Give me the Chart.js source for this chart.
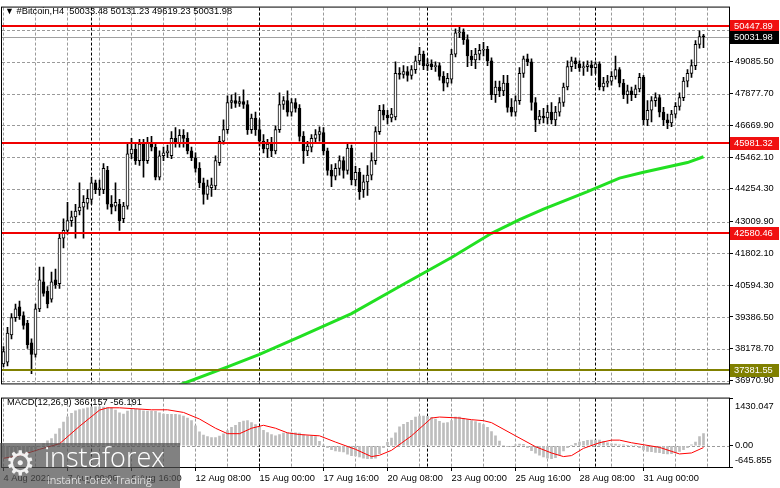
<!DOCTYPE html>
<html>
<head>
<meta charset="utf-8">
<title>#Bitcoin,H4</title>
<script src="https://cdn.jsdelivr.net/npm/chart.js@4.4.1/dist/chart.umd.min.js"></script>
<style>
  html, body { margin: 0; padding: 0; background: #fff; }
  #wrap { position: relative; width: 780px; height: 488px; overflow: hidden; font-family: "Liberation Sans", Arial, sans-serif; }
  #mainChart { position: absolute; left: 0; top: 0; }
  #macdChart { position: absolute; left: 0; top: 391px; }
  .lbl { position: absolute; font-size: 9.3px; line-height: 12px; color: #000; white-space: pre; }
  #title { left: 5px; top: 5px; }
  #title .arr { font-size: 9px; }
  #macdLbl { left: 7px; top: 396px; }
  #wm { position: absolute; left: 0; top: 443px; width: 180px; height: 45px; background: rgba(80, 80, 80, 0.72); color: #fff; }
  #wmGear { position: absolute; left: 5px; top: 2px; font: 34px/36px "DejaVu Sans"; color: rgba(255, 255, 255, 0.9); }
  #wmName { position: absolute; left: 44px; top: 0; font: 300 27px/27px "Open Sans"; }
  #wmTag { position: absolute; left: 47px; top: 31px; font: 300 11px/11px "Open Sans"; }
</style>
</head>
<body>
<div id="wrap">
  <canvas id="mainChart" width="780" height="391"></canvas>
  <canvas id="macdChart" width="780" height="97"></canvas>
  <div id="title" class="lbl"><span class="arr">▼</span> #Bitcoin,H4  50033.48 50131.23 49619.23 50031.98</div>
  <div id="macdLbl" class="lbl">MACD(12,26,9) 366.157 -56.191</div>
  <div id="wm">
    <span id="wmGear">⚙</span>
    <span id="wmName">instaforex</span>
    <span id="wmTag">Instant Forex Trading</span>
  </div>
</div>

<script>
// H4 candles, oldest first
const openP = [
  37597, 37670, 38701, 39364, 39769, 39438, 39143, 38407, 37965, 39695,
  40726, 40358, 40063, 40800, 40653, 42383, 42678, 43046, 43193, 43414,
  43562, 43709, 43856, 44482, 44224, 44224, 44961, 43672, 43598, 43672,
  43120, 43598, 45587, 45771, 45329, 45955, 45329, 45992, 45844, 44703,
  45513, 45624, 45513, 46176, 45992, 46286, 46176, 45697, 45439, 45034,
  44482, 44040, 44298, 44372, 45255, 46065, 46507, 47538, 47612, 47501,
  47575, 47464, 46507, 46949, 46507, 46065, 45771, 45955, 45697, 46507,
  47464, 47612, 47170, 47538, 47317, 46249, 45697, 45844, 46176, 46323,
  46397, 45697, 44961, 44740, 45034, 45329, 44961, 45808, 44593, 44887,
  44224, 44519, 44777, 45329, 46434, 47244, 47059, 46949, 46986, 48643,
  48606, 48716, 48569, 48790, 49121, 49379, 48937, 49011, 48900, 48937,
  48532, 48274, 48422, 49379, 50189, 50226, 49931, 49305, 49158, 49379,
  49526, 49563, 49121, 47833, 48127, 47980, 48274, 47354, 47170, 47612,
  48643, 49195, 49084, 47538, 46875, 47023, 46949, 47170, 46875, 47170,
  47538, 48127, 48900, 49121, 49011, 48864, 48900, 48974, 48864, 49011,
  48127, 48274, 48348, 48532, 48790, 48274, 47833, 47980, 47833, 48054,
  48495, 46875, 47244, 47612, 47722, 47170, 46875, 46765, 47096, 47391,
  47722, 48348, 48643, 48937, 49747, 50033.48
];
const highP = [
  38259, 38996, 39511, 39879, 39990, 39585, 39254, 38554, 39879, 41279,
  41279, 40542, 41095, 41206, 42567, 43120, 43746, 43414, 43672, 44482,
  44003, 44224, 44703, 44593, 44593, 45218, 45108, 44003, 44482, 43856,
  43746, 45955, 46176, 45992, 46139, 46139, 46213, 46249, 45955, 45697,
  45844, 45918, 46434, 46581, 46507, 46507, 46397, 45844, 45624, 45255,
  44666, 44593, 44666, 45513, 46249, 46875, 47796, 47833, 47906, 47759,
  48017, 47612, 47096, 47170, 46875, 46323, 46139, 46213, 46654, 47906,
  47759, 47980, 47685, 47685, 47464, 46434, 46065, 46323, 46507, 46618,
  46581, 45808, 45182, 45218, 45513, 45476, 45955, 45918, 45108, 45034,
  44777, 45145, 45624, 46618, 47428, 47464, 47244, 47317, 49084, 48864,
  48937, 48900, 48937, 49305, 49637, 49489, 49195, 49158, 49084, 49048,
  48716, 48643, 49563, 50336, 50410, 50336, 50115, 49526, 49600, 49747,
  49821, 49674, 49232, 48348, 48348, 48569, 48569, 47685, 47796, 48864,
  49305, 49379, 49195, 47722, 47244, 47317, 47428, 47538, 47391, 47722,
  48274, 49121, 49269, 49232, 49121, 49084, 49121, 49121, 49084, 49084,
  48495, 48569, 48716, 49305, 48864, 48422, 48201, 48127, 48201, 48643,
  48569, 47612, 47759, 47906, 47833, 47354, 47096, 47244, 47538, 47906,
  48495, 48790, 49158, 49895, 50263, 50131.23
];
const lowP = [
  37486, 37523, 38554, 39217, 39290, 38922, 38186, 37228, 37854, 39585,
  40174, 39732, 39953, 40469, 40469, 42015, 42531, 42825, 42383, 43267,
  42383, 43488, 43672, 44077, 44003, 44077, 43488, 43304, 43414, 42678,
  42972, 43488, 45403, 45182, 45145, 44703, 45218, 45697, 44593, 44593,
  45329, 45439, 45403, 45844, 45844, 45844, 45587, 45329, 44887, 44298,
  43672, 43856, 43967, 44224, 45145, 45955, 46360, 47317, 47354, 47391,
  47317, 46323, 46360, 46286, 45881, 45624, 45439, 45476, 45587, 46397,
  47280, 47023, 47023, 47170, 46065, 45218, 45513, 45660, 45992, 46065,
  45550, 44777, 44335, 44593, 44777, 44666, 44813, 44408, 44372, 43856,
  43930, 44003, 44593, 45182, 46323, 46875, 46728, 46802, 46875, 48422,
  48459, 48348, 48422, 48643, 48974, 48790, 48753, 48790, 48716, 48385,
  47980, 48127, 48274, 49269, 50005, 49747, 48900, 48937, 48827, 49158,
  49305, 48937, 47649, 47538, 47759, 47796, 47170, 47023, 47023, 47464,
  48495, 48937, 47244, 46434, 46728, 46765, 46728, 46728, 46654, 47023,
  47391, 48017, 48716, 48827, 48716, 48569, 48716, 48569, 48643, 48017,
  47980, 48127, 48201, 48422, 48127, 47685, 47501, 47612, 47722, 47943,
  46691, 46654, 46802, 47391, 46986, 46654, 46544, 46618, 46949, 47244,
  47612, 48127, 48495, 48790, 49600, 49619.23
];
const closeP = [
  38075, 38775, 39364, 39695, 39438, 39069, 38333, 37965, 39695, 40800,
  40284, 39879, 40726, 40616, 42383, 42678, 43046, 43193, 43414, 43562,
  43746, 43893, 44482, 44224, 44298, 45034, 43672, 43562, 43746, 43046,
  43598, 45587, 45771, 45329, 45955, 45329, 45992, 45844, 44703, 45513,
  45624, 45697, 46176, 45992, 46286, 46176, 45697, 45439, 45034, 44482,
  44040, 44372, 44408, 45329, 46065, 46507, 47538, 47612, 47501, 47575,
  47464, 46507, 46949, 46507, 46065, 45771, 45955, 45697, 46507, 47464,
  47612, 47170, 47538, 47317, 46249, 45697, 45881, 46176, 46323, 46434,
  45697, 44961, 44740, 45034, 45329, 44961, 45808, 44593, 44887, 44151,
  44519, 44777, 45329, 46434, 47244, 47059, 46949, 47096, 48643, 48606,
  48716, 48569, 48790, 49121, 49379, 48937, 49011, 48900, 48937, 48532,
  48274, 48459, 49379, 50189, 50226, 49931, 49305, 49158, 49379, 49526,
  49563, 49121, 47833, 48127, 47980, 48274, 47354, 47170, 47612, 48643,
  49195, 49084, 47538, 46875, 47023, 46949, 47170, 46875, 47170, 47538,
  48127, 48900, 49121, 49011, 48864, 48900, 48974, 48864, 49011, 48127,
  48274, 48348, 48532, 48790, 48274, 47833, 47980, 47833, 48054, 48495,
  46875, 47244, 47612, 47722, 47170, 46875, 46765, 47096, 47391, 47722,
  48348, 48643, 48937, 49747, 50042, 50031.98
];

// MACD(12,26,9): main line (histogram) per bar, signal line vertices
const macdHist = [
  -350, -330, -300, -260, -220, -200, -170, -150, -100, -20,
  65, 150, 220, 350, 520, 720, 880, 980, 1060, 1100,
  1120, 1150, 1170, 1180, 1180, 1170, 1160, 1150, 1080, 1000,
  960, 1050, 1100, 1110, 1100, 1060, 1050, 1050, 1040, 1000,
  960, 950, 950, 950, 940, 900, 840, 760, 600, 420,
  320, 280, 250, 250, 290, 360, 460, 560, 620, 710,
  750, 760, 700, 640, 560, 470, 400, 340, 300, 340,
  380, 390, 390, 390, 380, 330, 300, 300, 280, 130,
  20, -60, -120, -160, -170, -190, -260, -300, -310, -340,
  -380, -390, -390, -380, -240, -60, 100, 230, 390, 570,
  650, 710, 770, 870, 900, 900, 890, 860, 810, 740,
  690, 700, 760, 870, 870, 830, 790, 760, 730, 690,
  640, 560, 430, 300, 140, 0, -30, -20, 30, 50,
  40, -60, -150, -230, -290, -340, -380, -390, -360, -280,
  -160, -60, 10, 70, 110, 130, 160, 170, 170, 170,
  130, 90, 60, 50, 30, 30, 10, 0, 20, -60,
  -130, -170, -180, -200, -210, -240, -250, -240, -200, -170,
  -120, -60, 30, 110, 280, 366.157
];
const signalIdx = [0, 4, 9, 14, 19, 24, 26, 29, 33, 37, 41, 45, 49, 53, 56, 59, 62, 65, 68, 71, 74, 79, 83, 88, 92, 94, 97, 102, 107, 109, 114, 117, 120, 122, 128, 133, 137, 140, 142, 145, 149, 152, 154, 157, 160, 164, 167, 169, 172, 175];
const signalVal = [-380, -300, -110, 60, 590, 1080, 1150, 1150, 1120, 1090, 1090, 1010, 810, 530, 365, 365, 530, 620, 530, 390, 340, 300, 110, -110, -330, -290, -140, 300, 840, 870, 840, 790, 760, 700, 300, -30, -220, -330, -300, -80, 90, 170, 170, 90, 30, -50, -170, -250, -220, -56.191];

// moving average (green) vertices
const maIdx = [44, 56, 64, 74, 87, 99, 112, 122, 129, 135, 146, 154, 160, 171, 175];
const maVal = [36800, 37487, 37965, 38628, 39512, 40543, 41647, 42567, 43083, 43488, 44151, 44666, 44887, 45255, 45476];

// levels and axis ticks
const redLevels = [50447.89, 45981.32, 42580.46];
const oliveLevel = 37381.55;
const lastPrice = 50031.98;
const priceTicks = [36970.90, 38178.70, 39386.50, 40594.30, 41802.10, 43009.90, 44254.30, 45462.10, 46669.90, 47877.70, 49085.50, 50293.30];
const hiddenPriceTicks = [50293.30];
const macdTicks = [-645.855, 0, 1430.047];
const gridIdx = [0, 8, 16, 24, 32, 40, 48, 56, 64, 72, 80, 88, 96, 104, 112, 120, 128, 136, 144, 152, 160, 168, 176];
const xLabelIdx = [0, 16, 32, 48, 64, 80, 96, 112, 128, 144, 160];
const xLabels = ['4 Aug 2021', '7 Aug 00:00', '9 Aug 16:00', '12 Aug 08:00', '15 Aug 00:00', '17 Aug 16:00', '20 Aug 08:00', '23 Aug 00:00', '25 Aug 16:00', '28 Aug 08:00', '31 Aug 00:00'];
const weekIdx = [22, 64, 106, 148];

const xMin = -0.375, xMax = 181.375;
const priceMin = 36860.2, priceMax = 51146.36;
const FONT = '9.3px "Liberation Sans"';
const GRID = '#9a9a9a';

Chart.defaults.font.family = 'Liberation Sans';
Chart.defaults.font.size = 9.3;
Chart.defaults.color = '#000';

const bars = openP.map((_, i) => i);

// dashed grid from the scales' tick values, then the weekly separators
function drawGridAndWeeks(ctx, a, x, y, yVals) {
  ctx.save();
  ctx.lineWidth = 1;
  ctx.strokeStyle = GRID;
  ctx.setLineDash([3, 2]);
  ctx.beginPath();
  gridIdx.forEach(v => {
    const px = Math.floor(x.getPixelForValue(v)) + 0.5;
    if (px <= a.left || px >= a.right) return;
    ctx.moveTo(px, a.top);
    ctx.lineTo(px, a.bottom);
  });
  yVals.forEach(v => {
    const py = Math.round(y.getPixelForValue(v)) + 0.5;
    if (py <= a.top + 1 || py >= a.bottom - 1) return;
    ctx.moveTo(a.left, py);
    ctx.lineTo(a.right, py);
  });
  ctx.stroke();
  ctx.strokeStyle = '#000';
  ctx.beginPath();
  weekIdx.forEach(v => {
    const px = Math.floor(x.getPixelForValue(v)) + 0.5;
    ctx.moveTo(px, a.top);
    ctx.lineTo(px, a.bottom);
  });
  ctx.stroke();
  ctx.restore();
}

function drawFrame(ctx, a) {
  ctx.save();
  ctx.strokeStyle = '#000';
  ctx.lineWidth = 1;
  ctx.strokeRect(a.left - 0.5, a.top - 0.5, a.right - a.left + 1, a.bottom - a.top + 1);
  ctx.restore();
}

function drawTag(ctx, py, text, bg) {
  const yy = Math.round(py);
  ctx.fillStyle = bg;
  ctx.fillRect(730, yy - 6, 49, 13);
  ctx.fillStyle = '#fff';
  ctx.font = FONT;
  ctx.textAlign = 'left';
  ctx.textBaseline = 'middle';
  ctx.fillText(text, 734, yy + 0.5);
}

const mainDecor = {
  id: 'mainDecor',
  beforeDatasetsDraw(chart) {
    const {ctx, chartArea: a, scales: {x, y}} = chart;
    drawGridAndWeeks(ctx, a, x, y, priceTicks);
    ctx.save();
    const yc = Math.round(y.getPixelForValue(lastPrice)) + 0.5;
    ctx.strokeStyle = '#a0a0a0';
    ctx.lineWidth = 1;
    ctx.beginPath();
    ctx.moveTo(a.left, yc);
    ctx.lineTo(a.right, yc);
    ctx.stroke();
    ctx.restore();
  },
  afterDatasetsDraw(chart) {
    const {ctx, chartArea: a, scales: {y}} = chart;
    ctx.save();
    ctx.lineWidth = 2;
    ctx.strokeStyle = '#f00000';
    redLevels.forEach(v => {
      const py = Math.round(y.getPixelForValue(v));
      ctx.beginPath();
      ctx.moveTo(a.left, py);
      ctx.lineTo(a.right, py);
      ctx.stroke();
    });
    ctx.strokeStyle = '#808000';
    const po = Math.round(y.getPixelForValue(oliveLevel));
    ctx.beginPath();
    ctx.moveTo(a.left, po);
    ctx.lineTo(a.right, po);
    ctx.stroke();
    ctx.restore();
  },
  afterDraw(chart) {
    const {ctx, chartArea: a, scales: {y}} = chart;
    drawFrame(ctx, a);
    ctx.save();
    redLevels.forEach(v => drawTag(ctx, y.getPixelForValue(v), v.toFixed(2), '#f01010'));
    drawTag(ctx, y.getPixelForValue(lastPrice), lastPrice.toFixed(2), '#000');
    drawTag(ctx, y.getPixelForValue(oliveLevel), oliveLevel.toFixed(2), '#808000');
    ctx.restore();
  }
};

const macdDecor = {
  id: 'macdDecor',
  beforeDatasetsDraw(chart) {
    const {ctx, chartArea: a, scales: {x, y}} = chart;
    drawGridAndWeeks(ctx, a, x, y, macdTicks);
  },
  afterDraw(chart) {
    const {ctx, chartArea: a} = chart;
    drawFrame(ctx, a);
    ctx.save();
    ctx.fillStyle = '#000';
    ctx.font = FONT;
    ctx.textAlign = 'left';
    ctx.textBaseline = 'middle';
    ctx.fillText(macdTicks[2].toFixed(3), 735, a.top + 8);
    ctx.fillText(macdTicks[0].toFixed(3), 735, a.bottom - 7);
    ctx.restore();
  }
};

const common = {
  responsive: false,
  animation: false,
  events: [],
  plugins: { legend: { display: false }, tooltip: { enabled: false } }
};

new Chart(document.getElementById('mainChart'), {
  type: 'bar',
  data: {
    datasets: [
      {
        type: 'line',
        label: 'MA',
        data: maIdx.map((v, k) => ({x: v, y: maVal[k]})),
        borderColor: '#22e022',
        borderWidth: 3,
        pointRadius: 0,
        tension: 0,
        clip: 0,
        order: 1
      },
      {
        label: 'body',
        data: bars.map(i => ({x: i, y: [openP[i], closeP[i]]})),
        backgroundColor: bars.map(i => closeP[i] >= openP[i] ? '#fff' : '#000'),
        borderColor: '#000',
        borderWidth: 1,
        borderSkipped: false,
        barThickness: 3,
        minBarLength: 1,
        grouped: false,
        order: 2
      },
      {
        label: 'wick',
        data: bars.map(i => ({x: i, y: [lowP[i], highP[i]]})),
        backgroundColor: '#000',
        borderWidth: 0,
        barThickness: 1,
        grouped: false,
        order: 3
      }
    ]
  },
  options: Object.assign({}, common, {
    layout: { padding: { top: 2, left: 2, right: 0, bottom: 1 } },
    scales: {
      x: {
        type: 'linear', min: xMin, max: xMax, offset: false,
        afterBuildTicks: s => { s.ticks = gridIdx.map(v => ({value: v})); },
        afterFit: s => { s.height = 0; },
        ticks: { display: false },
        grid: { drawOnChartArea: false, drawTicks: false, offset: false },
        border: { display: false }
      },
      y: {
        position: 'right', min: priceMin, max: priceMax,
        afterBuildTicks: s => { s.ticks = priceTicks.map(v => ({value: v})); },
        afterFit: s => { s.width = 51; },
        ticks: {
          padding: 2,
          callback: v => hiddenPriceTicks.includes(v) ? '' : Number(v).toFixed(2)
        },
        grid: { drawOnChartArea: false, tickLength: 4, tickColor: '#000' },
        border: { display: false }
      }
    }
  }),
  plugins: [mainDecor]
});

new Chart(document.getElementById('macdChart'), {
  type: 'bar',
  data: {
    datasets: [
      {
        type: 'line',
        label: 'Signal',
        data: signalIdx.map((v, k) => ({x: v, y: signalVal[k]})),
        borderColor: '#ff0000',
        borderWidth: 1,
        pointRadius: 0,
        tension: 0,
        order: 1
      },
      {
        label: 'MACD',
        data: bars.map(i => ({x: i, y: macdHist[i]})),
        backgroundColor: '#bdbdbd',
        barThickness: 2,
        grouped: false,
        order: 2
      }
    ]
  },
  options: Object.assign({}, common, {
    layout: { padding: { top: 2, left: 2, right: 0, bottom: 0 } },
    scales: {
      x: {
        type: 'linear', min: xMin, max: xMax, offset: false,
        afterBuildTicks: s => { s.ticks = gridIdx.map(v => ({value: v})); },
        afterFit: s => { s.height = 21; },
        ticks: {
          align: 'start', padding: 1.5, autoSkip: false, maxRotation: 0, minRotation: 0,
          callback: v => { const k = xLabelIdx.indexOf(v); return k >= 0 ? xLabels[k] : ''; }
        },
        grid: {
          drawOnChartArea: false, offset: false, tickLength: 4,
          tickColor: c => (c.tick && xLabelIdx.includes(c.tick.value)) ? '#000' : 'rgba(0,0,0,0)'
        },
        border: { display: false }
      },
      y: {
        position: 'right', min: macdTicks[0], max: macdTicks[2],
        afterBuildTicks: s => { s.ticks = macdTicks.map(v => ({value: v})); },
        afterFit: s => { s.width = 51; },
        ticks: { padding: 2, callback: v => v === 0 ? '0.00' : '' },
        grid: { drawOnChartArea: false, tickLength: 4, tickColor: '#000' },
        border: { display: false }
      }
    }
  }),
  plugins: [macdDecor]
});
</script>
</body>
</html>
